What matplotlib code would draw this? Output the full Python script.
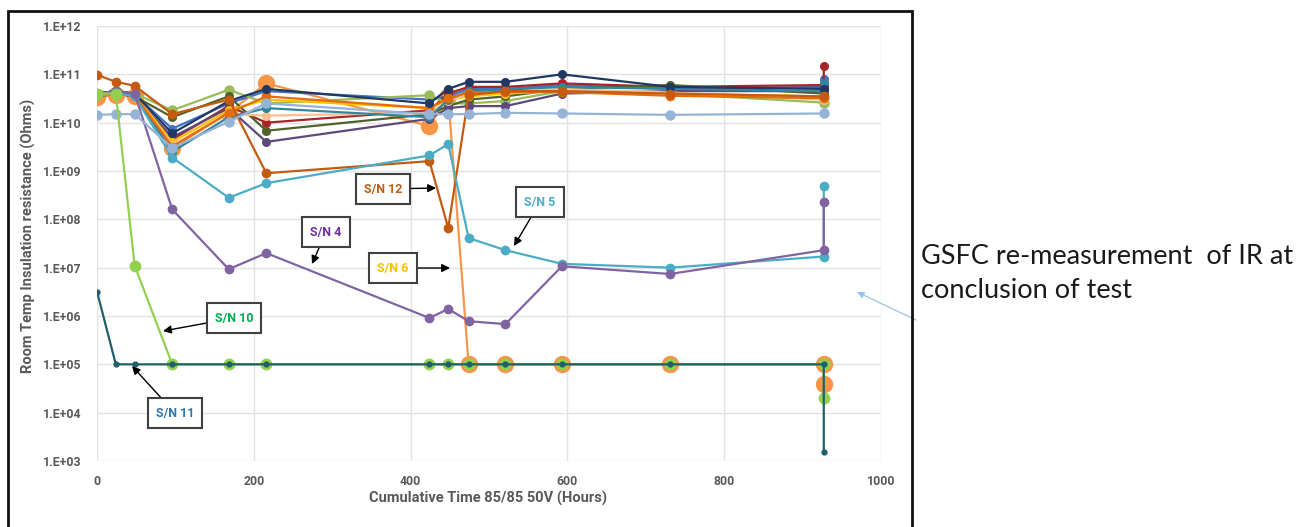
import matplotlib
matplotlib.use("Agg")
import matplotlib.pyplot as plt
from matplotlib.patches import Rectangle

# ---------------- data ----------------
hours = [0, 24, 48, 96, 168, 216, 424, 448, 474, 521, 593, 731, 927]
remeasure_hour = 927

sn1 = [4.0e10, 4.5e10, 3.8e10, 7.5e9, 2.5e10, 4.5e10, 3.0e10, 3.5e10, 5.0e10, 5.0e10, 6.0e10, 5.0e10, 5.5e10]
sn2 = [3.8e10, 4.2e10, 3.5e10, 4.5e9, 2.2e10, 1.0e10, 1.8e10, 4.0e10, 5.5e10, 5.5e10, 6.5e10, 5.5e10, 6.0e10]
sn3 = [4.0e10, 4.5e10, 4.0e10, 1.8e10, 4.8e10, 2.5e10, 3.7e10, 2.5e10, 2.5e10, 2.8e10, 4.5e10, 4.0e10, 2.6e10]
sn7 = [3.5e10, 4.0e10, 3.5e10, 1.3e10, 3.5e10, 6.8e9, 1.5e10, 2.2e10, 3.0e10, 3.5e10, 5.0e10, 6.0e10, 4.0e10]
sn8 = [3.5e10, 4.0e10, 3.5e10, 5.0e9, 2.0e10, 4.0e9, 1.2e10, 2.0e10, 2.2e10, 2.2e10, 4.0e10, 4.5e10, 4.5e10]
sn9 = [4.0e10, 4.5e10, 4.0e10, 6.0e9, 2.8e10, 5.0e10, 2.5e10, 5.0e10, 7.0e10, 7.0e10, 1.0e11, 5.5e10, 5.0e10]
sn13 = [3.8e10, 4.2e10, 3.8e10, 4.0e9, 1.8e10, 3.0e10, 2.0e10, 3.0e10, 3.5e10, 4.0e10, 4.5e10, 4.0e10, 3.5e10]
sn14 = [1.45e10, 1.5e10, 1.5e10, 3.0e9, 1.05e10, 2.5e10, 1.5e10, 1.5e10, 1.5e10, 1.6e10, 1.55e10, 1.45e10, 1.55e10]
sn15 = [3.6e10, 4.0e10, 3.6e10, 3.5e9, 1.5e10, 1.4e10, 1.6e10, 2.8e10, 4.0e10, 4.2e10, 5.0e10, 4.2e10, 3.0e10]
sn16 = [3.7e10, 4.1e10, 3.7e10, 2.5e9, 1.3e10, 2.0e10, 1.3e10, 3.0e10, 4.5e10, 4.8e10, 5.5e10, 5.0e10, 4.5e10]
sn17 = [3.7e10, 4.1e10, 3.7e10, 3.2e9, 1.6e10, 3.5e10, 2.0e10, 3.2e10, 4.2e10, 4.3e10, 4.3e10, 3.6e10, 3.2e10]
sn4 = [4.0e10, 4.5e10, 4.0e10, 1.6e8, 9.3e6, 2.0e7, 9.1e5, 1.4e6, 7.8e5, 6.8e5, 1.07e7, 7.4e6, 2.3e7]
sn5 = [4.0e10, 4.2e10, 3.5e10, 1.9e9, 2.8e8, 5.6e8, 2.1e9, 3.6e9, 4.1e7, 2.3e7, 1.2e7, 1.0e7, 1.7e7]
sn6 = [3.4e10, 3.7e10, 3.5e10, 3.0e9, 1.6e10, 6.5e10, 8.5e9, 3.5e10, 1e5, 1e5, 1e5, 1e5, 1e5]
sn10 = [4.0e10, 4.0e10, 1.1e7, 1e5, 1e5, 1e5, 1e5, 1e5, 1e5, 1e5, 1e5, 1e5, 1e5]
sn11 = [3.2e6, 1e5, 1e5, 1e5, 1e5, 1e5, 1e5, 1e5, 1e5, 1e5, 1e5, 1e5, 1e5]
sn12 = [9.8e10, 7.0e10, 5.8e10, 1.5e10, 3.0e10, 9.0e8, 1.6e9, 6.6e7, 3.7e10, 4.5e10, 4.5e10, 4.0e10, 3.5e10]

# GSFC re-measurement at conclusion of test
remeasure = {"sn2": 1.5e11, "sn4": 2.3e8, "sn5": 4.9e8, "sn6": 4.0e4,
             "sn10": 2.0e4, "sn11": 1.5e3, "sn1": 8.0e10, "sn16": 6.5e10}

y_ticks = [1e3, 1e4, 1e5, 1e6, 1e7, 1e8, 1e9, 1e10, 1e11, 1e12]
y_tick_labels = ["1.E+03", "1.E+04", "1.E+05", "1.E+06", "1.E+07", "1.E+08",
                 "1.E+09", "1.E+10", "1.E+11", "1.E+12"]
x_ticks = [0, 200, 400, 600, 800, 1000]

# series: name -> (values, color, markersize)
series = [
    ("sn6", sn6, "#F79646", 11.5),
    ("sn1", sn1, "#4472C4", 5.5),
    ("sn2", sn2, "#A5262A", 5.5),
    ("sn3", sn3, "#9BBB59", 6.5),
    ("sn7", sn7, "#4F6228", 5.5),
    ("sn8", sn8, "#5F497A", 5.5),
    ("sn13", sn13, "#FFC000", 5.5),
    ("sn15", sn15, "#FAC090", 5.5),
    ("sn16", sn16, "#31859C", 5.5),
    ("sn17", sn17, "#E46C0A", 6),
    ("sn9", sn9, "#1F3864", 5.5),
    ("sn12", sn12, "#C55A11", 6),
    ("sn5", sn5, "#4BACC6", 6),
    ("sn4", sn4, "#8064A2", 6),
    ("sn14", sn14, "#95B3D7", 6.5),
    ("sn10", sn10, "#92D050", 7.5),
    ("sn11", sn11, "#215F6B", 3.5),
]

# ---------------- figure ----------------
W, H = 1310, 527
fig = plt.figure(figsize=(W / 100, H / 100), dpi=100)
ax = fig.add_axes([97 / W, 1 - 461 / H, (881 - 97) / W, (461 - 26) / H])

for name, vals, color, ms in series:
    xs = list(hours)
    ys = list(vals)
    if name in remeasure:
        xs.append(remeasure_hour)
        ys.append(remeasure[name])
    ax.plot(xs, ys, color=color, lw=1.6, marker="o", ms=ms,
            markerfacecolor=color, markeredgecolor=color, zorder=3)

LABEL_FONT = "Roboto"

ax.set_yscale("log")
ax.set_xlim(0, 1000)
ax.set_ylim(1e3, 1e12)
ax.set_yticks(y_ticks)
ax.set_yticklabels(y_tick_labels)
ax.minorticks_off()
ax.set_xticks(x_ticks)
ax.set_xticklabels([str(v) for v in x_ticks])
ax.tick_params(axis="y", length=0, pad=11)
ax.tick_params(axis="x", length=0, pad=10)
for lab in ax.get_yticklabels() + ax.get_xticklabels():
    lab.set_fontweight("bold")
    lab.set_family(LABEL_FONT)
    lab.set_fontsize(8.8)
    lab.set_color("#595959")
ax.grid(True, color="#E3E3E3", lw=1.0, zorder=0)
for s in ax.spines.values():
    s.set_visible(False)
ax.set_ylabel("Room Temp Insulation resistance (Ohms)", fontsize=10.5,
              fontweight="bold", color="#595959", family=LABEL_FONT)
ax.yaxis.set_label_coords((28 - 97) / (881 - 97), (461 - 236) / (461 - 26))
ax.set_xlabel("Cumulative Time 85/85 50V (Hours)", fontsize=10.5,
              fontweight="bold", color="#595959", family=LABEL_FONT)
ax.xaxis.set_label_coords((488 - 97) / (881 - 97), -(498 - 461) / (461 - 26))
ax.xaxis.label.set_va("center")
ax.yaxis.label.set_va("center")

# annotation boxes
def px2data(px, py):
    x = (px - 97) / 0.784
    y = 10 ** (12 - (py - 26) / 48.33)
    return x, y

labels = [
    ("S/N 12", "#C55A11", (383, 189), (436, 188)),
    ("S/N 4", "#7030A0", (326, 232), (312, 264)),
    ("S/N 5", "#4BACC6", (540, 202), (514, 246)),
    ("S/N 6", "#FFC000", (393, 268), (450, 268)),
    ("S/N 10", "#00B050", (234, 318), (163, 331)),
    ("S/N 11", "#2E75B6", (175, 413), (132, 366)),
]
for txt, col, box, tip in labels:
    ax.annotate(txt, xy=px2data(*tip), xytext=px2data(*box),
                ha="center", va="center", fontsize=9, fontweight="bold",
                family=LABEL_FONT, color=col, zorder=6, annotation_clip=False,
                bbox=dict(boxstyle="square,pad=0.65", fc="white",
                          ec="#404040", lw=1.5),
                arrowprops=dict(arrowstyle="-|>", color="black", lw=1.0,
                                shrinkA=0, shrinkB=0, mutation_scale=12))

# GSFC arrow
ax.annotate("", xy=px2data(857, 292), xytext=px2data(916, 320),
            annotation_clip=False,
            arrowprops=dict(arrowstyle="-|>", color="#9DC3E6", lw=0.9,
                            shrinkA=0, shrinkB=0, mutation_scale=10))

fig.text(921 / W, 1 - 257 / H, "GSFC re-measurement  of IR at",
         fontsize=19.5, family="Lato", va="center", ha="left", color="#1a1a1a")
fig.text(921 / W, 1 - 290 / H, "conclusion of test",
         fontsize=19.5, family="Lato", va="center", ha="left", color="#1a1a1a")

# outer frame
fig.patches.append(Rectangle((8 / W, -0.02), (912 - 8) / W, (527 - 11) / H + 0.02,
                             transform=fig.transFigure, fill=False,
                             ec="#111111", lw=2.0))

fig.savefig("out.png", dpi=100)
